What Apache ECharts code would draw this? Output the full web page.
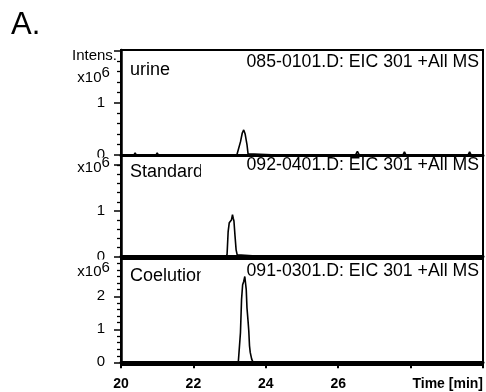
<!DOCTYPE html>
<html><head><meta charset="utf-8">
<script src="https://cdn.jsdelivr.net/npm/echarts@6/dist/echarts.min.js"></script>
<style>html,body{margin:0;padding:0;background:#fff}#c{width:486px;height:392px}</style>
</head><body><div id="c"></div>
<script>
// ---- data (intensity in units of 10^6) ----
const panelNames = ['urine', 'Standard', 'Coelution'];
const panelHeaders = ['085-0101.D: EIC 301 +All MS', '092-0401.D: EIC 301 +All MS', '091-0301.D: EIC 301 +All MS'];

const urineTime = [20, 20.36, 20.39, 20.42, 20.72, 20.75, 20.78, 20.97, 21.0, 21.03, 21.33, 21.36, 21.39,
  23.20, 23.24, 23.30, 23.35, 23.39, 23.41, 23.43, 23.45, 23.48, 23.51, 23.54,
  24.32, 24.35, 24.38, 24.74, 24.77, 24.80, 25.12, 25.15, 25.18, 25.53, 25.56, 25.59,
  26.48, 26.53, 26.58, 27.79, 27.83, 27.87, 28.44, 28.47, 28.50, 29.59, 29.63, 29.67, 30];
const urineInt = [0, 0, 0.04, 0, 0, 0.03, 0, 0, 0.04, 0, 0, 0.03, 0,
  0, 0.02, 0.25, 0.42, 0.48, 0.47, 0.40, 0.38, 0.20, 0.02, 0,
  0, 0.03, 0, 0, 0.03, 0, 0, 0.03, 0, 0, 0.03, 0,
  0, 0.07, 0, 0, 0.06, 0, 0, 0.03, 0, 0, 0.06, 0, 0];

const standardTime = [20, 22.90, 22.93, 22.96, 22.99, 23.02, 23.05, 23.08, 23.10, 23.12, 23.15, 23.18, 23.21, 23.24,
  24.05, 24.09, 24.13, 30];
const standardInt = [0, 0, 0.05, 0.55, 0.74, 0.72, 0.80, 0.92, 0.84, 0.78, 0.45, 0.15, 0.04, 0,
  0, 0.03, 0, 0];

const coelutionTime = [20, 23.24, 23.27, 23.30, 23.33, 23.36, 23.39, 23.42, 23.44, 23.46, 23.48, 23.51, 23.53,
  23.55, 23.57, 23.61, 23.65, 30];
const coelutionInt = [0, 0, 0.05, 0.9, 1.9, 2.35, 2.45, 2.6, 2.66, 2.2, 1.65, 1.25, 0.95,
  0.5, 0.3, 0.1, 0, 0];

// ---- axes / ticks ----
const xTickLabels = {20: '20', 22: '22', 24: '24', 26: '26', 28: '', 30: 'Time [min]'};
const yRanges = [[-0.02, 2.01], [-0.05, 2.2], [-0.08, 3.13]];
const yMajorTicks = [[0, 1, 2], [0, 1, 2], [0, 1, 2]];
const yLabelValues = [[0, 1], [0, 1], [0, 1, 2]];
const yMinorTicks = [
  [0.2, 0.4, 0.6, 0.8, 1.2, 1.4, 1.6, 1.8],
  [0.2, 0.4, 0.6, 0.8, 1.2, 1.4, 1.6, 1.8, 2.0],
  [0.2, 0.4, 0.6, 0.8, 1.2, 1.4, 1.6, 1.8, 2.2, 2.4, 2.6, 2.8, 3.0]
];

const seriesTimes = [urineTime, standardTime, coelutionTime];
const seriesInts = [urineInt, standardInt, coelutionInt];

// ---- layout ----
const FONT = "'Liberation Sans', Arial, Helvetica, sans-serif";
const grids = [{top: 50, height: 106}, {top: 156, height: 103}, {top: 259, height: 106}];
const labelY = [70.5, 172, 276.5];
const headerY = [62.5, 165.5, 271];
const expY = [77.5, 167.5, 272];

const chart = echarts.init(document.getElementById('c'), null, {renderer: 'canvas'});

const xAxes = grids.map((g, i) => {
  const last = i === 2;
  return {
    type: 'value', gridIndex: i, min: 20, max: 30, interval: 2,
    axisLine: {show: true, lineStyle: {color: '#000', width: 3}},
    axisTick: {show: last, length: 6, lineStyle: {color: '#000', width: 2}},
    minorTick: {show: last, splitNumber: 2, length: 3, lineStyle: {color: '#000', width: 1.5}},
    axisLabel: {
      show: last, margin: 12, color: '#000', fontFamily: FONT, fontWeight: 'bold', fontSize: 14,
      showMaxLabel: true, showMinLabel: true, hideOverlap: false,
      formatter: v => xTickLabels[v] !== undefined ? xTickLabels[v] : '',
      alignMaxLabel: 'right'
    },
    splitLine: {show: false}, minorSplitLine: {show: false}
  };
});

const yAxes = [];
grids.forEach((g, i) => {
  yAxes.push({
    type: 'value', gridIndex: i, position: 'left', min: yRanges[i][0], max: yRanges[i][1],
    axisLine: {show: true, lineStyle: {color: '#000', width: 2.5}},
    axisTick: {show: true, customValues: yMajorTicks[i], length: 7, lineStyle: {color: '#000', width: 1.5}},
    axisLabel: {show: true, customValues: yLabelValues[i], margin: 16, color: '#000', fontFamily: FONT, fontSize: 15},
    splitLine: {show: false}
  });
  yAxes.push({
    type: 'value', gridIndex: i, position: 'left', offset: 0, min: yRanges[i][0], max: yRanges[i][1],
    axisLine: {show: false},
    axisTick: {show: true, customValues: yMinorTicks[i], length: 4, lineStyle: {color: '#000', width: 1.3}},
    axisLabel: {show: false},
    splitLine: {show: false}
  });
});

const series = seriesTimes.map((t, i) => ({
  type: 'line', xAxisIndex: i, yAxisIndex: 2 * i,
  data: t.map((x, k) => [x, seriesInts[i][k]]),
  symbol: 'none', showSymbol: false, animation: false, z: 5,
  lineStyle: {color: '#000', width: 1.6}
}));

function txt(text, x, y, size, align, extra) {
  return Object.assign({
    type: 'text', z: 100,
    style: {text: text, x: x, y: y, font: size + 'px ' + FONT, fill: '#000',
      textAlign: align, align: align, textVerticalAlign: 'middle', verticalAlign: 'middle'}
  }, extra || {});
}

const graphics = [];
graphics.push(txt('A.', 11, 25.5, 31, 'left'));
graphics.push(txt('Intens.', 117, 56, 15, 'right'));
// clip lower half of the zero labels of panels 1 and 2
graphics.push({type: 'rect', z: 99, shape: {x: 85, y: 157.5, width: 25, height: 6}, style: {fill: '#fff'}});
graphics.push({type: 'rect', z: 99, shape: {x: 85, y: 259.5, width: 25, height: 6}, style: {fill: '#fff'}});
grids.forEach((g, i) => {
  graphics.push(txt('x10', 101.5, expY[i], 15, 'right'));
  graphics.push(txt('6', 101.5, expY[i] - 4.5, 15, 'left'));
  graphics.push(txt(panelNames[i], 130, labelY[i], 18, 'left'));
  graphics.push(txt(panelHeaders[i], 479, headerY[i], 17.7, 'right'));
});
// clipping of the long panel labels
graphics.push({type: 'rect', z: 101, shape: {x: 201, y: 161, width: 36, height: 22}, style: {fill: '#fff'}});
graphics.push({type: 'rect', z: 101, shape: {x: 201, y: 265, width: 36, height: 22}, style: {fill: '#fff'}});

chart.setOption({
  animation: false,
  backgroundColor: '#fff',
  grid: grids.map(g => ({left: 121, width: 362, top: g.top, height: g.height, show: true,
    borderColor: '#000', borderWidth: 2, backgroundColor: 'transparent'})),
  xAxis: xAxes,
  yAxis: yAxes,
  series: series,
  graphic: {elements: graphics}
});
</script></body></html>
